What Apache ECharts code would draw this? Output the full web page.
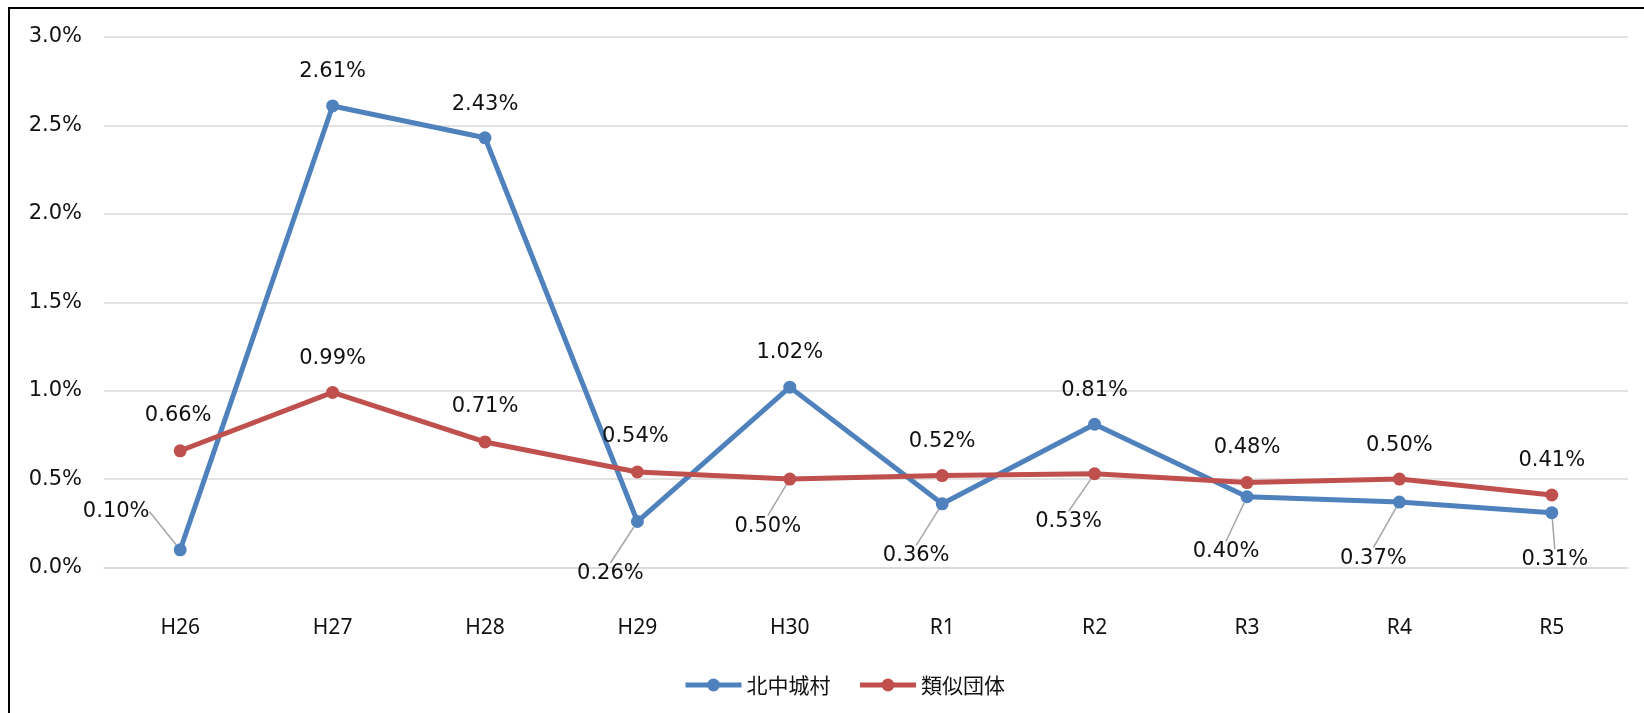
<!DOCTYPE html>
<html><head><meta charset="utf-8">
<script src="https://cdn.jsdelivr.net/npm/echarts@6/dist/echarts.min.js"></script>
<style>
html,body{margin:0;padding:0;background:#fff;overflow:hidden;width:1644px;height:713px;}
#chart{position:absolute;left:0;top:0;width:1644px;height:713px;}
#frame{position:absolute;left:8px;top:7px;width:2000px;height:2000px;border-top:2px solid #000;border-left:2px solid #000;pointer-events:none;}
</style></head><body>
<div id="chart"></div><div id="frame"></div>
<script>
// ---- data ----
const categories = ['H26','H27','H28','H29','H30','R1','R2','R3','R4','R5'];
const seriesNames = ['北中城村','類似団体'];
const kitanakagusuku = [0.10,2.61,2.43,0.26,1.02,0.36,0.81,0.40,0.37,0.31];
const ruiji = [0.66,0.99,0.71,0.54,0.50,0.52,0.53,0.48,0.50,0.41];
const yMin = 0, yMax = 3, yInterval = 0.5;

// ---- label placement (styling only): offset from point, and leader-line flag ----
const blueLabelOffsets = [[-64,-38],[0,-34],[0,-33],[-27,52],[0,-35],[-26,52],[0,-34],[-21,55],[-26,56],[3,47]];
const blueLeader = [1,0,0,1,0,1,0,1,1,1];
const redLabelOffsets = [[-2,-35],[0,-34],[0,-35],[-2,-35],[-22,47],[0,-34],[-26,48],[0,-35],[0,-34],[0,-34]];
const redLeader = [0,0,0,0,1,0,1,0,0,0];

const BLUE = '#4F81BD', RED = '#C0504D';
const LABEL_FONT = 'DejaVu Sans';

function buildData(values, leaders) {
  return values.map((v, i) => ({ value: v, labelLine: { show: !!leaders[i] } }));
}
function makeSeries(name, values, color, offsets, leaders) {
  return {
    name: name,
    type: 'line',
    data: buildData(values, leaders),
    symbol: 'circle',
    symbolSize: 13,
    showSymbol: true,
    lineStyle: { color: color, width: 5 },
    itemStyle: { color: color },
    label: {
      show: true,
      position: 'inside',
      formatter: p => p.value.toFixed(2) + '%',
      fontFamily: LABEL_FONT,
      fontSize: 21,
      color: '#111'
    },
    labelLine: { show: false, lineStyle: { color: '#a6a6a6', width: 1.5 } },
    labelLayout: p => {
      const o = offsets[p.dataIndex];
      return { dx: o[0], dy: o[1] };
    },
    emphasis: { disabled: true }
  };
}

const chart = echarts.init(document.getElementById('chart'), null, { renderer: 'canvas' });
chart.setOption({
  animation: false,
  backgroundColor: '#fff',
  grid: { left: 104, right: 16, top: 37, bottom: 145.5, containLabel: false },
  xAxis: {
    type: 'category',
    data: categories,
    boundaryGap: true,
    axisLine: { show: true, lineStyle: { color: '#d9d9d9', width: 1.5 } },
    axisTick: { show: false },
    axisLabel: { margin: 50, fontFamily: 'Noto Sans', fontSize: 21, color: '#111' }
  },
  yAxis: {
    type: 'value',
    min: yMin, max: yMax, interval: yInterval,
    axisLine: { show: false },
    axisTick: { show: false },
    splitLine: { show: true, lineStyle: { color: '#d9d9d9', width: 1.5 } },
    axisLabel: { margin: 22, fontFamily: LABEL_FONT, fontSize: 21, color: '#111',
      formatter: v => v.toFixed(1) + '%' }
  },
  legend: {
    data: seriesNames,
    left: 678,
    top: 668,
    itemWidth: 56,
    itemHeight: 16,
    itemGap: 27,
    lineStyle: { width: 5 },
    textStyle: { fontFamily: 'Noto Sans CJK JP', fontSize: 21, color: '#111', lineHeight: 24 }
  },
  series: [
    makeSeries(seriesNames[0], kitanakagusuku, BLUE, blueLabelOffsets, blueLeader),
    makeSeries(seriesNames[1], ruiji, RED, redLabelOffsets, redLeader)
  ]
});
</script>
</body></html>
